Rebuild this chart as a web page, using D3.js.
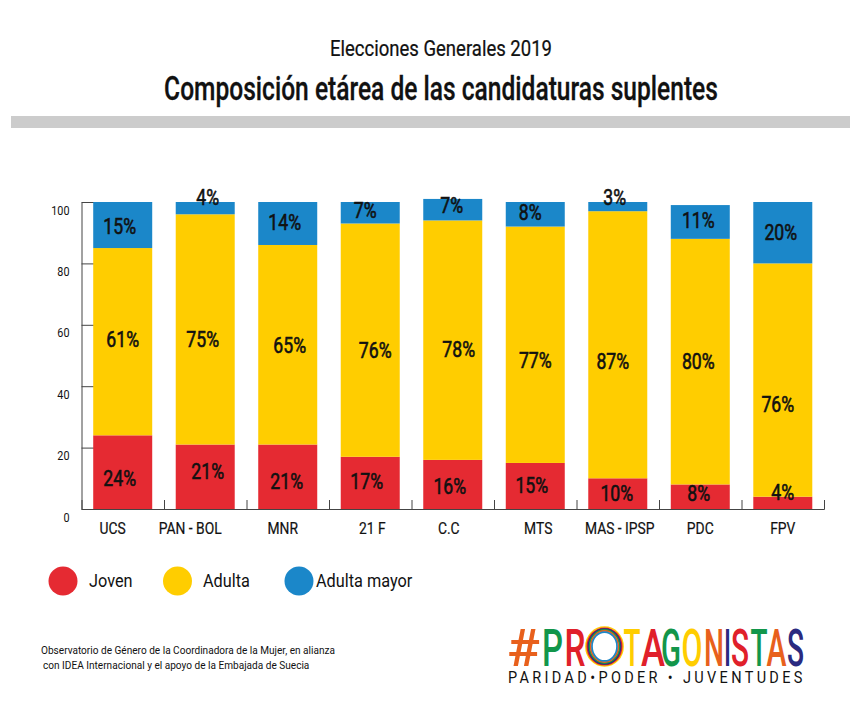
<!DOCTYPE html>
<html>
<head>
<meta charset="utf-8">
<script src="https://cdn.jsdelivr.net/npm/d3@7"></script>
<style>
  html, body { margin: 0; padding: 0; background: #fff; }
  svg { display: block; }
  text { font-family: Roboto, sans-serif; fill: #111; }
</style>
</head>
<body>
<svg id="chart"></svg>
<script>
// Data
const parties = ["UCS", "PAN - BOL", "MNR", "21 F", "C.C", "MTS", "MAS - IPSP", "PDC", "FPV"];
const joven = [24, 21, 21, 17, 16, 15, 10, 8, 4];
const adulta = [61, 75, 65, 76, 78, 77, 87, 80, 76];
const adultaMayor = [15, 4, 14, 7, 7, 8, 3, 11, 20];
const seriesNames = ["Joven", "Adulta", "Adulta mayor"];
const yTicks = [0, 20, 40, 60, 80, 100];

const width = 850;
const height = 707;
const marginTop = 202;
const marginBottom = 198;
const marginLeft = 81.5;
const marginRight = 26;

const svg = d3.select("#chart")
    .attr("width", width)
    .attr("height", height)
    .attr("viewBox", [0, 0, width, height]);

// No condensed font installed, so squeeze Roboto horizontally around its own x
function squeeze(selection, k) {
    selection.attr("transform", function() {
        const x0 = +this.getAttribute("x") || 0;
        const f = typeof k === "function" ? k(this) : k;
        return `translate(${x0},0) scale(${f},1) translate(${-x0},0)`;
    });
}
function fitWidth(selection, w) {
    selection.each(function(d, i) {
        const target = typeof w === "function" ? w(d, i) : w;
        d3.select(this).call(squeeze, target / this.getComputedTextLength());
    });
}

// Titles and grey band
svg.append("text")
    .attr("x", 441).attr("y", 56)
    .attr("text-anchor", "middle")
    .attr("font-size", 22.5)
    .attr("stroke", "#111")
    .attr("stroke-width", 0.25)
    .text("Elecciones Generales 2019")
    .call(fitWidth, 222);

svg.append("text")
    .attr("x", 441).attr("y", 100)
    .attr("text-anchor", "middle")
    .attr("font-size", 32.5)
    .attr("font-weight", 500)
    .attr("stroke", "#111")
    .attr("stroke-width", 0.3)
    .text("Composición etárea de las candidaturas suplentes")
    .call(fitWidth, 554);

svg.append("rect")
    .attr("x", 11).attr("y", 116)
    .attr("width", width - 11).attr("height", 12)
    .attr("fill", "#cccccc");

// Scales
const rows = parties.map((p, i) => ({
    party: p,
    Joven: joven[i],
    Adulta: adulta[i],
    "Adulta mayor": adultaMayor[i]
}));

const x = d3.scaleBand()
    .domain(parties)
    .range([marginLeft, width - marginRight])
    .paddingInner(0.285)
    .paddingOuter(0.142);

const y = d3.scaleLinear()
    .domain([0, 100])
    .range([height - marginBottom, marginTop]);

const color = d3.scaleOrdinal()
    .domain(seriesNames)
    .range(["#e52a32", "#ffcd00", "#1b87c9"]);

const stacked = d3.stack().keys(seriesNames)(rows);

// Axes go under the bars
svg.append("g")
    .attr("transform", `translate(0,${y(0)})`)
    .call(d3.axisBottom(d3.scalePoint().domain(d3.range(10)).range([marginLeft, marginLeft + 82.5 * 9]))
        .tickValues(d3.range(1, 10))
        .tickSize(-9)
        .tickFormat(""))
    .call(g => g.selectAll("path, line").attr("stroke", "#444"));

svg.append("g")
    .attr("transform", `translate(${marginLeft},0)`)
    .call(d3.axisLeft(y).tickValues(yTicks).tickSize(-18).tickPadding(0))
    .call(g => g.selectAll("path, line").attr("stroke", "#444"))
    .call(g => g.selectAll("text")
        .attr("x", -12).attr("dy", 12)
        .attr("font-size", 13.5)
        .attr("font-family", "Roboto, sans-serif")
        .attr("fill", "#111")
        .call(squeeze, 0.8));

// Bars
svg.append("g")
  .selectAll("g")
  .data(stacked)
  .join("g")
    .attr("fill", d => color(d.key))
  .selectAll("rect")
  .data(d => d)
  .join("rect")
    .attr("x", d => x(d.data.party))
    .attr("width", x.bandwidth())
    .attr("y", d => y(d[1]))
    .attr("height", d => y(d[0]) - y(d[1]));

// Percent labels sit by hand in the original, so nudge them from the segment middle
const labelNudgeY = {
    "Joven": [6, -5, 5, -1, 2, 0, 0, -3, -10],
    "Adulta": [-2, 10, 1, 10, 9, 16, 17, 0, 24],
    "Adulta mayor": [1, -11, -1, -2, -4, -2, -9, -1, 0]
};
const labelNudgeX = {
    "Joven": [-3, 2.5, -1, -3.5, -3, -3.5, -1, -1.5, 0],
    "Adulta": [0, -2.5, 2, 5, 6, 0, -5, -2, -5],
    "Adulta mayor": [-3, 2.5, -3, -5, -1, -5, -3, -2, -2]
};

svg.append("g")
  .selectAll("g")
  .data(stacked)
  .join("g")
  .selectAll("text")
  .data(s => s.map((d, i) => ({ d, i, key: s.key })))
  .join("text")
    .attr("x", ({ d, i, key }) => x(d.data.party) + x.bandwidth() / 2 + labelNudgeX[key][i])
    .attr("y", ({ d, i, key }) => (y(d[0]) + y(d[1])) / 2 + labelNudgeY[key][i])
    .attr("dy", "0.35em")
    .attr("text-anchor", "middle")
    .attr("font-size", 21.5)
    .attr("stroke", "#111")
    .attr("stroke-width", 0.6)
    .text(({ d, key }) => `${d.data[key]}%`)
    .call(squeeze, 0.82);

// Party names, also placed unevenly in the original
const nameNudge = [-10, -15, -5, 2, -4, 3, 2, 0, 0];
svg.append("g")
  .selectAll("text")
  .data(parties)
  .join("text")
    .attr("x", (d, i) => x(d) + x.bandwidth() / 2 + nameNudge[i])
    .attr("y", 534)
    .attr("text-anchor", "middle")
    .attr("font-size", 16.5)
    .attr("stroke", "#111")
    .attr("stroke-width", 0.2)
    .text(d => d)
    .call(squeeze, 0.84);

// Legend
const legendCx = [63, 177.5, 299];
const legendTx = [89, 203, 316];
const legend = svg.append("g")
  .selectAll("g")
  .data(seriesNames)
  .join("g");
legend.append("circle")
    .attr("cx", (d, i) => legendCx[i])
    .attr("cy", 581)
    .attr("r", 14.5)
    .attr("fill", d => color(d));
legend.append("text")
    .attr("x", (d, i) => legendTx[i])
    .attr("y", 587)
    .attr("font-size", 18.5)
    .text(d => d)
    .call(squeeze, 0.88);

// Footnote
svg.append("text")
    .attr("x", 41).attr("y", 654)
    .attr("font-size", 11.8)
    .text("Observatorio de Género de la Coordinadora de la Mujer, en alianza")
    .call(fitWidth, 294);
svg.append("text")
    .attr("x", 43).attr("y", 669)
    .attr("font-size", 11.8)
    .text("con IDEA Internacional y el apoyo de la Embajada de Suecia")
    .call(squeeze, 0.855);

// Logo, letter by letter around the ringed O
const logoLetters = ["#", "P", "R", "T", "A", "G", "O", "N", "I", "S", "T", "A", "S"];
const logoX = [523.5, 552.5, 575, 632, 653, 671, 692, 714, 727.5, 740, 759, 776.5, 795.5];
const logoW = [33, 21, 21, 17, 24, 20, 21, 20, 7, 18, 17, 20, 17];
const logoColors = ["#e8601c", "#12964a", "#e0202a", "#ffcd00", "#e0202a", "#12964a", "#ffcd00", "#e8601c", "#2a2a80", "#e0202a", "#12964a", "#e8601c", "#2a2a80"];

const logo = svg.append("g");
logo.selectAll("text")
  .data(logoLetters)
  .join("text")
    .attr("x", (d, i) => logoX[i])
    .attr("y", 666)
    .attr("text-anchor", "middle")
    .attr("font-size", 52)
    .attr("font-weight", 500)
    .style("fill", (d, i) => logoColors[i])
    .text(d => d)
    .call(fitWidth, (d, i) => logoW[i]);

const rings = [["#ffcd00", 18.5, 19.5], ["#e0202a", 17.2, 18.2], ["#2a2a80", 16, 17.4], ["#12964a", 15, 16.6], ["#e8601c", 13.8, 15.6], ["#1b87c9", 12.5, 14.4]];
logo.selectAll("ellipse")
  .data(rings)
  .join("ellipse")
    .attr("cx", 604.5).attr("cy", 646.5)
    .attr("rx", d => d[1]).attr("ry", d => d[2])
    .attr("fill", "none")
    .attr("stroke", d => d[0])
    .attr("stroke-width", 1.7);

svg.append("text")
    .attr("x", 508).attr("y", 683)
    .attr("font-size", 16.5)
    .attr("letter-spacing", 3.8)
    .text("PARIDAD•PODER • JUVENTUDES")
    .call(fitWidth, 298);
</script>
</body>
</html>
